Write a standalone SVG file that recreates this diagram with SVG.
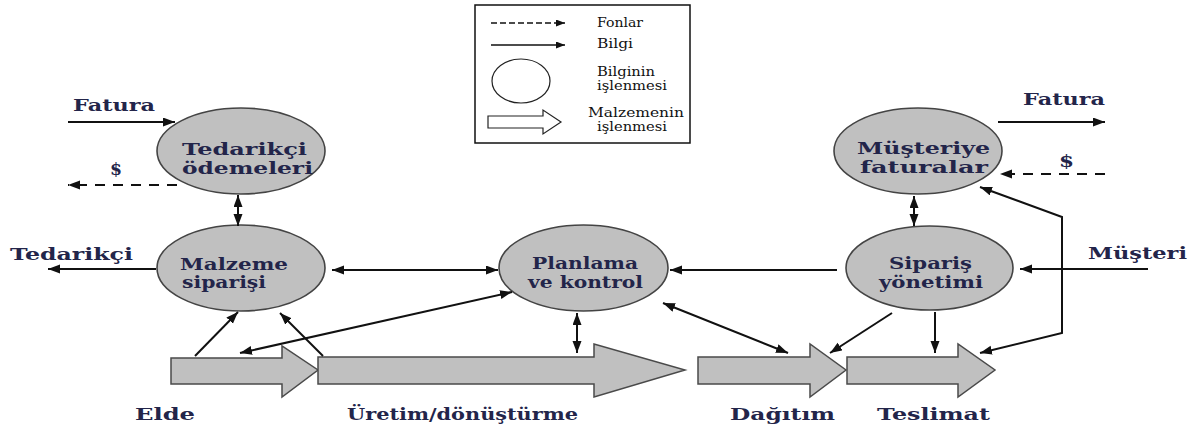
<svg xmlns="http://www.w3.org/2000/svg" width="1199" height="430" viewBox="0 0 1199 430">
  <defs>
    <marker id="ah" markerUnits="userSpaceOnUse" markerWidth="13" markerHeight="10" refX="12" refY="4.5" orient="auto-start-reverse">
      <path d="M0,0 L12,4.5 L0,9 z" fill="#111"/>
    </marker>
    <marker id="ahs" markerUnits="userSpaceOnUse" markerWidth="10" markerHeight="8" refX="9" refY="3.5" orient="auto">
      <path d="M0,0 L9,3.5 L0,7 z" fill="#111"/>
    </marker>
    <style>
      .bubble { fill: #c0c0c0; stroke: #444; stroke-width: 1.6; }
      .flow { fill: #c0c0c0; stroke: #4a4a4a; stroke-width: 1.5; }
      .lbl { font-family: 'DejaVu Serif', 'Liberation Serif', serif; font-weight: 700; font-size: 16px; fill: #23254a; }
      .leg { font-family: 'DejaVu Serif', 'Liberation Serif', serif; font-size: 12px; fill: #111; }
      .info { fill: none; stroke: #111; stroke-width: 2; }
      .fund { fill: none; stroke: #111; stroke-width: 2; stroke-dasharray: 10 8; }
    </style>
  </defs>
  <rect width="1199" height="430" fill="#fff"/>

  <!-- legend -->
  <g id="legend">
    <rect x="475" y="5" width="215" height="138" fill="#fff" stroke="#111" stroke-width="1.5"/>
    <line x1="491" y1="23" x2="565" y2="23" stroke="#111" stroke-width="1.5" stroke-dasharray="6 3" marker-end="url(#ahs)"/>
    <line x1="491" y1="45" x2="565" y2="45" stroke="#111" stroke-width="1.5" marker-end="url(#ahs)"/>
    <ellipse cx="521" cy="81" rx="29" ry="22" fill="#fff" stroke="#222" stroke-width="1.2"/>
    <polygon points="488,116 543,116 543,110 561,122 543,134 543,128 488,128" fill="#fff" stroke="#222" stroke-width="1.2"/>
    <text class="leg" x="597" y="27" textLength="46" lengthAdjust="spacingAndGlyphs">Fonlar</text>
    <text class="leg" x="597" y="48" textLength="36" lengthAdjust="spacingAndGlyphs">Bilgi</text>
    <text class="leg" x="597" y="76" textLength="58" lengthAdjust="spacingAndGlyphs">Bilginin</text>
    <text class="leg" x="597" y="90" textLength="70" lengthAdjust="spacingAndGlyphs">işlenmesi</text>
    <text class="leg" x="588" y="117" textLength="96" lengthAdjust="spacingAndGlyphs">Malzemenin</text>
    <text class="leg" x="597" y="131" textLength="70" lengthAdjust="spacingAndGlyphs">işlenmesi</text>
  </g>

  <!-- material flow blocks -->
  <g id="elde">
    <polygon class="flow" points="171,358 282,358 282,346 318,370 282,397 282,384 171,384"/>
    <text class="lbl" x="135" y="420" textLength="60" lengthAdjust="spacingAndGlyphs">Elde</text>
  </g>
  <g id="uretim">
    <polygon class="flow" points="318,357 594,357 594,344 685,370 594,397 594,384 318,384"/>
    <text class="lbl" x="347" y="420" textLength="231" lengthAdjust="spacingAndGlyphs">Üretim/dönüştürme</text>
  </g>
  <g id="dagitim">
    <polygon class="flow" points="698,357 810,357 810,344 846,370 810,397 810,384 698,384"/>
    <text class="lbl" x="730" y="420" textLength="105" lengthAdjust="spacingAndGlyphs">Dağıtım</text>
  </g>
  <g id="teslimat">
    <polygon class="flow" points="847,357 958,357 958,344 995,370 958,397 958,384 847,384"/>
    <text class="lbl" x="877" y="420" textLength="113" lengthAdjust="spacingAndGlyphs">Teslimat</text>
  </g>

  <!-- information processes -->
  <g id="tedarikci-odemeleri">
    <ellipse class="bubble" cx="241" cy="151" rx="84" ry="43"/>
    <text class="lbl" x="182" y="155" textLength="125" lengthAdjust="spacingAndGlyphs">Tedarikçi</text>
    <text class="lbl" x="182" y="174" textLength="131" lengthAdjust="spacingAndGlyphs">ödemeleri</text>
  </g>
  <g id="malzeme-siparisi">
    <ellipse class="bubble" cx="241" cy="268" rx="84" ry="43"/>
    <text class="lbl" x="180" y="270" textLength="108" lengthAdjust="spacingAndGlyphs">Malzeme</text>
    <text class="lbl" x="182" y="288" textLength="84" lengthAdjust="spacingAndGlyphs">siparişi</text>
  </g>
  <g id="planlama">
    <ellipse class="bubble" cx="583.5" cy="268" rx="84.5" ry="43"/>
    <text class="lbl" x="532" y="269" textLength="106" lengthAdjust="spacingAndGlyphs">Planlama</text>
    <text class="lbl" x="528" y="288" textLength="115" lengthAdjust="spacingAndGlyphs">ve kontrol</text>
  </g>
  <g id="siparis-yonetimi">
    <ellipse class="bubble" cx="929.5" cy="268" rx="83.5" ry="42"/>
    <text class="lbl" x="889" y="269" textLength="83" lengthAdjust="spacingAndGlyphs">Sipariş</text>
    <text class="lbl" x="879" y="288" textLength="104" lengthAdjust="spacingAndGlyphs">yönetimi</text>
  </g>
  <g id="musteriye-faturalar">
    <ellipse class="bubble" cx="918" cy="151" rx="84" ry="43"/>
    <text class="lbl" x="857" y="154" textLength="133" lengthAdjust="spacingAndGlyphs">Müşteriye</text>
    <text class="lbl" x="860" y="173" textLength="128" lengthAdjust="spacingAndGlyphs">faturalar</text>
  </g>

  <!-- external labels -->
  <g id="external-labels">
    <text class="lbl" x="73" y="111" textLength="82" lengthAdjust="spacingAndGlyphs">Fatura</text>
    <text class="lbl" x="110" y="175" textLength="12" lengthAdjust="spacingAndGlyphs">$</text>
    <text class="lbl" x="10" y="260" textLength="123" lengthAdjust="spacingAndGlyphs">Tedarikçi</text>
    <text class="lbl" x="1023" y="105" textLength="82" lengthAdjust="spacingAndGlyphs">Fatura</text>
    <text class="lbl" x="1059" y="167" textLength="15" lengthAdjust="spacingAndGlyphs">$</text>
    <text class="lbl" x="1088" y="259" textLength="99" lengthAdjust="spacingAndGlyphs">Müşteri</text>
  </g>

  <!-- connectors -->
  <g id="connectors">
    <line class="info" x1="68" y1="122" x2="175" y2="122" marker-end="url(#ah)"/>
    <line class="fund" x1="177" y1="185" x2="68" y2="185" marker-end="url(#ah)"/>
    <line class="info" x1="238" y1="195" x2="238" y2="226" marker-start="url(#ah)" marker-end="url(#ah)"/>
    <line class="info" x1="156" y1="269" x2="48" y2="269" marker-end="url(#ah)"/>
    <line class="info" x1="332" y1="270" x2="498" y2="270" marker-start="url(#ah)" marker-end="url(#ah)"/>
    <line class="info" x1="837" y1="270" x2="670" y2="270" marker-end="url(#ah)"/>
    <line class="info" x1="1148" y1="269" x2="1020" y2="269" marker-end="url(#ah)"/>
    <line class="info" x1="998" y1="122" x2="1105" y2="122" marker-end="url(#ah)"/>
    <line class="fund" x1="1105" y1="174" x2="1000" y2="174" marker-end="url(#ah)"/>
    <line class="info" x1="914" y1="196" x2="914" y2="226" marker-start="url(#ah)" marker-end="url(#ah)"/>
    <polyline class="info" points="980,187 1062,217 1062,333 980,353" marker-start="url(#ah)" marker-end="url(#ah)"/>
    <line class="info" x1="935" y1="312" x2="935" y2="353" marker-end="url(#ah)"/>
    <line class="info" x1="892" y1="313" x2="830" y2="353" marker-end="url(#ah)"/>
    <line class="info" x1="663" y1="303" x2="788" y2="353" marker-start="url(#ah)" marker-end="url(#ah)"/>
    <line class="info" x1="577" y1="313" x2="577" y2="353" marker-start="url(#ah)" marker-end="url(#ah)"/>
    <line class="info" x1="240" y1="353" x2="512" y2="292" marker-start="url(#ah)" marker-end="url(#ah)"/>
    <line class="info" x1="195" y1="356" x2="238" y2="312" marker-end="url(#ah)"/>
    <line class="info" x1="323" y1="356" x2="280" y2="313" marker-end="url(#ah)"/>
  </g>
</svg>
